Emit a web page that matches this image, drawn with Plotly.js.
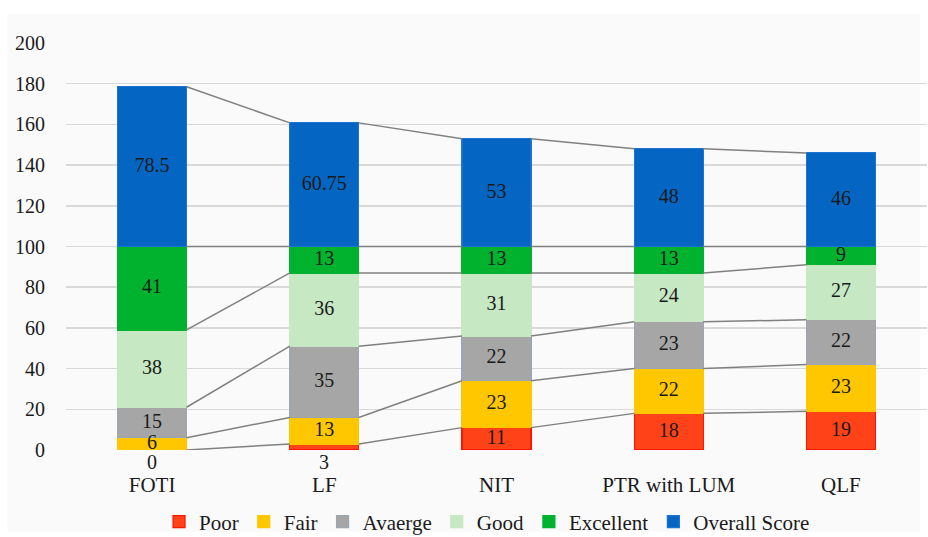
<!DOCTYPE html>
<html>
<head>
<meta charset="utf-8">
<script src="https://cdn.plot.ly/plotly-3.0.1.min.js"></script>
<style>html,body{margin:0;padding:0;background:#fff;}#chart{width:928px;height:537px;}</style>
</head>
<body>
<div id="chart"></div>
<script>
const categories = ["FOTI", "LF", "NIT", "PTR with LUM", "QLF"];
const seriesNames = ["Poor", "Fair", "Avaerge", "Good", "Excellent", "Overall Score"];
const poor = [0, 3, 11, 18, 19];
const fair = [6, 13, 23, 22, 23];
const average = [15, 35, 22, 23, 22];
const good = [38, 36, 31, 24, 27];
const excellent = [41, 13, 13, 13, 9];
const overall = [78.5, 60.75, 53, 48, 46];
const yTicks = [0, 20, 40, 60, 80, 100, 120, 140, 160, 180, 200];

const seriesValues = [poor, fair, average, good, excellent, overall];
const fills = ["#FF4218", "#FFC700", "#A6A6A6", "#C6E8C2", "#00B22E", "#0466C2"];
const edges = ["#FF1500", "#FFC700", "#9AA6B4", "#C6E8C2", "#00B22E", "#1A74D0"];
const barW = 0.4;
const FONT = "'Liberation Serif', 'DejaVu Serif', serif";
const xIdx = categories.map((c, i) => i);

const traces = [];
// series lines
const cum = categories.map(() => 0);
const levels = [];
seriesValues.forEach(vals => {
  vals.forEach((v, i) => cum[i] += v);
  levels.push(cum.slice());
});
levels.forEach(lv => {
  const lx = [], ly = [];
  for (let i = 0; i < categories.length - 1; i++) {
    lx.push(i + barW / 2, i + 1 - barW / 2, null);
    ly.push(lv[i], lv[i + 1], null);
  }
  traces.push({type: "scatter", mode: "lines", x: lx, y: ly, showlegend: false, hoverinfo: "skip",
    line: {color: "#808080", width: 1.5}});
});
// bars
seriesValues.forEach((vals, s) => {
  traces.push({type: "bar", name: seriesNames[s], x: xIdx, y: vals, width: barW,
    marker: {color: fills[s], line: {color: edges[s], width: 1.2}}});
});
// labels
const base = categories.map(() => 0);
const tx = [], ty = [], tt = [];
const annotations = [];
seriesValues.forEach(vals => {
  vals.forEach((v, i) => {
    if (v < 5) {
      annotations.push({x: i, y: base[i], xref: "x", yref: "y", text: String(v), showarrow: false,
        yanchor: "top", yshift: 1, font: {family: FONT, size: 20, color: "#1a1a1a"}});
    } else { tx.push(i); ty.push(base[i] + v / 2); tt.push(String(v)); }
    base[i] += v;
  });
});
traces.push({type: "scatter", mode: "text", x: tx, y: ty, text: tt, textposition: "middle center",
  showlegend: false, hoverinfo: "skip", cliponaxis: false,
  textfont: {family: FONT, size: 20, color: "#1a1a1a"}});

const layout = {
  width: 928, height: 537,
  margin: {l: 66, r: 1, t: 43, b: 87},
  paper_bgcolor: "#ffffff", plot_bgcolor: "rgba(0,0,0,0)",
  barmode: "stack",
  font: {family: FONT, size: 20, color: "#1a1a1a"},
  xaxis: {range: [-0.5, 4.5], tickvals: xIdx, ticktext: categories, showgrid: false,
    zeroline: false, showline: false, ticks: "", ticklabelstandoff: 20, fixedrange: true,
    tickfont: {family: FONT, size: 21, color: "#1a1a1a"}},
  yaxis: {range: [0, 200], tickvals: yTicks, showgrid: true, gridcolor: "#d9d9d9", gridwidth: 1.5,
    zeroline: false, showline: false, ticks: "", ticklabelstandoff: 20,
    tickfont: {family: FONT, size: 20, color: "#1a1a1a"}},
  legend: {orientation: "h", x: 0.489, xanchor: "center", yref: "container", y: 0.028, yanchor: "middle",
    bgcolor: "rgba(0,0,0,0)",
    font: {family: FONT, size: 21, color: "#1a1a1a"}, traceorder: "normal", itemwidth: 30},
  annotations: annotations,
  shapes: [{type: "rect", xref: "paper", yref: "paper", x0: -0.068, x1: 0.992, y0: -0.2, y1: 1.07,
    fillcolor: "#fafafa", line: {width: 0}, layer: "below"}],
  showlegend: true
};
Plotly.newPlot("chart", traces, layout, {displayModeBar: false, staticPlot: true});
</script>
</body>
</html>
